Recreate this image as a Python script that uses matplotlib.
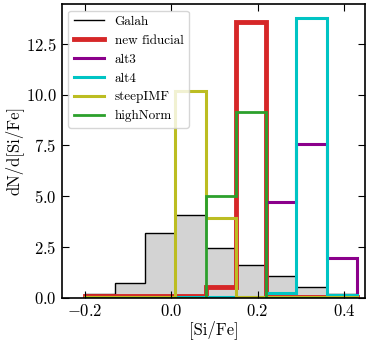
import numpy as np
import matplotlib
matplotlib.use('Agg')
import matplotlib.pyplot as plt

plt.rcParams['font.family'] = 'serif'
plt.rcParams['font.serif'] = ['cmr10']
plt.rcParams['mathtext.fontset'] = 'cm'
plt.rcParams['axes.formatter.use_mathtext'] = True
plt.rcParams['axes.unicode_minus'] = True

# bin edges in [Si/Fe]
edges = [-0.20, -0.13, -0.06, 0.01, 0.08, 0.15, 0.22, 0.29, 0.36, 0.43]

galah = [0.18, 0.75, 3.18, 4.08, 2.47, 1.61, 1.05, 0.53, 0.2]
new_fiducial = [0.1, 0.1, 0.1, 0.1, 0.55, 13.6, 0.05, 0.05, 0.05]
alt3 = [0.0, 0.0, 0.0, 0.0, 0.0, 0.0, 4.74, 7.55, 1.94]
alt4 = [0.02, 0.02, 0.02, 0.02, 0.02, 0.02, 0.22, 13.8, 0.15]
steep_imf = [0.05, 0.05, 0.05, 10.2, 3.95, 0.05, 0.05, 0.05, 0.05]
high_norm = [0.0, 0.0, 0.0, 0.0, 5.0, 9.15, 0.0, 0.0, 0.0]

fig = plt.figure(figsize=(3.7, 3.47), dpi=100)
ax = fig.add_axes([0.167, 0.142, 0.82, 0.8465])

ax.stairs(galah, edges, fill=True, color='lightgray')
ax.stairs(galah, edges, color='black', lw=1.0, label='Galah')
ax.stairs(new_fiducial, edges, color='#d62728', lw=3.5, label='new fiducial')
ax.stairs(alt3, edges, color='#8b008b', lw=2.2, label='alt3')
ax.stairs(alt4, edges, color='#00c4c4', lw=2.2, label='alt4')
ax.stairs(steep_imf, edges, color='#bcbd22', lw=2.2, label='steepIMF')
ax.stairs(high_norm, edges, color='#2ca02c', lw=2.0, label='highNorm')

ax.set_xlim(-0.253, 0.449)
ax.set_ylim(0, 14.47)
ax.set_xticks([-0.2, 0.0, 0.2, 0.4])
ax.set_yticks([0, 2.5, 5.0, 7.5, 10.0, 12.5])
ax.tick_params(direction='in', top=True, right=True, labelsize=12, length=5)
for s in ax.spines.values():
    s.set_linewidth(1.2)
ax.set_xlabel('[Si/Fe]', fontsize=12, labelpad=1)
ax.set_ylabel('dN/d[Si/Fe]', fontsize=12, labelpad=2)
ax.legend(loc='upper left', fontsize=9.5, handlelength=2.3)

fig.savefig('out.png', dpi=100)
